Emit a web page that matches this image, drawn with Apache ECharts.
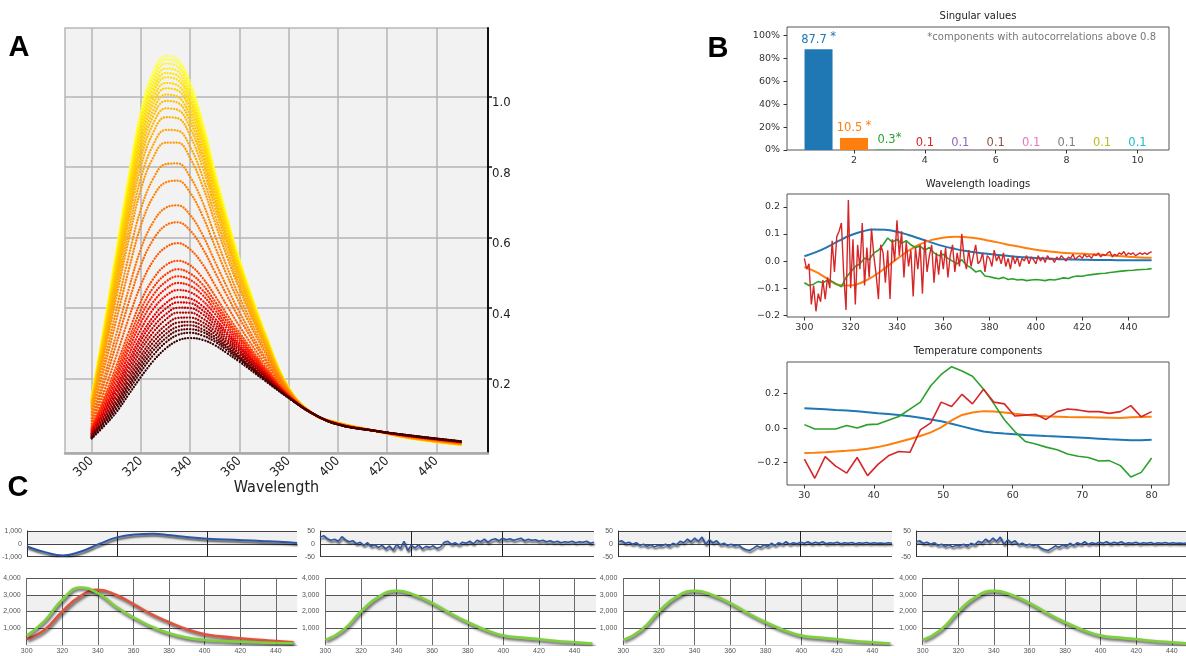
<!DOCTYPE html>
<html>
<head>
<meta charset="utf-8">
<title>Thermal spectra decomposition</title>
<script src="https://cdn.jsdelivr.net/npm/echarts@6/dist/echarts.min.js"></script>
<style>
  html, body { margin: 0; padding: 0; background: #fff; }
  #chart { width: 1186px; height: 656px; }
</style>
</head>
<body>
<div id="chart"></div>
<script>
// ---------- panel A : spectra, one curve per temperature ----------
const specWl = [300, 305, 310, 315, 320, 325, 330, 335, 340, 345, 350, 355, 360, 370, 380, 390, 400, 415, 430, 450]
const spectra = [
  [0.150,0.350,0.565,0.775,0.960,1.070,1.115,1.105,1.040,0.930,0.790,0.660,0.540,0.340,0.175,0.100,0.075,0.052,0.030,0.012],
  [0.149,0.347,0.560,0.768,0.951,1.060,1.105,1.095,1.031,0.923,0.784,0.655,0.537,0.338,0.175,0.100,0.075,0.052,0.030,0.012],
  [0.147,0.342,0.553,0.758,0.940,1.048,1.093,1.084,1.020,0.913,0.777,0.650,0.532,0.336,0.174,0.100,0.075,0.052,0.030,0.012],
  [0.145,0.338,0.545,0.748,0.928,1.035,1.079,1.071,1.009,0.903,0.769,0.643,0.527,0.334,0.174,0.100,0.075,0.052,0.030,0.012],
  [0.143,0.333,0.538,0.738,0.916,1.022,1.066,1.058,0.997,0.893,0.761,0.637,0.523,0.332,0.173,0.100,0.075,0.052,0.030,0.013],
  [0.141,0.329,0.531,0.729,0.904,1.009,1.054,1.046,0.986,0.884,0.753,0.631,0.518,0.329,0.173,0.100,0.075,0.052,0.031,0.013],
  [0.139,0.324,0.522,0.717,0.890,0.994,1.038,1.031,0.973,0.872,0.744,0.624,0.513,0.327,0.172,0.100,0.075,0.052,0.031,0.013],
  [0.137,0.318,0.514,0.706,0.876,0.979,1.023,1.017,0.960,0.861,0.735,0.617,0.508,0.324,0.172,0.100,0.074,0.052,0.031,0.013],
  [0.134,0.312,0.504,0.693,0.860,0.961,1.005,0.999,0.944,0.848,0.724,0.608,0.501,0.321,0.171,0.100,0.074,0.052,0.031,0.013],
  [0.132,0.306,0.494,0.680,0.844,0.944,0.987,0.982,0.928,0.835,0.714,0.600,0.495,0.318,0.170,0.100,0.074,0.052,0.031,0.014],
  [0.129,0.299,0.483,0.664,0.825,0.923,0.966,0.962,0.910,0.819,0.701,0.591,0.488,0.314,0.170,0.100,0.074,0.052,0.031,0.014],
  [0.125,0.290,0.468,0.645,0.801,0.898,0.941,0.938,0.888,0.800,0.686,0.579,0.479,0.310,0.169,0.100,0.074,0.052,0.032,0.014],
  [0.120,0.278,0.449,0.618,0.769,0.863,0.905,0.903,0.857,0.773,0.665,0.562,0.466,0.304,0.167,0.100,0.074,0.052,0.032,0.015],
  [0.115,0.266,0.429,0.592,0.737,0.827,0.869,0.869,0.825,0.747,0.644,0.545,0.454,0.297,0.166,0.100,0.074,0.052,0.032,0.015],
  [0.106,0.245,0.395,0.546,0.681,0.767,0.808,0.810,0.772,0.701,0.607,0.516,0.432,0.287,0.164,0.100,0.073,0.052,0.033,0.016],
  [0.098,0.227,0.366,0.507,0.634,0.716,0.756,0.761,0.727,0.662,0.576,0.492,0.414,0.278,0.162,0.100,0.073,0.052,0.034,0.016],
  [0.088,0.202,0.326,0.453,0.568,0.644,0.684,0.691,0.664,0.608,0.533,0.459,0.389,0.265,0.159,0.100,0.072,0.052,0.034,0.017],
  [0.080,0.185,0.298,0.415,0.522,0.594,0.634,0.643,0.620,0.570,0.503,0.435,0.371,0.257,0.158,0.100,0.072,0.052,0.035,0.018],
  [0.072,0.164,0.264,0.370,0.466,0.534,0.572,0.584,0.566,0.525,0.466,0.406,0.349,0.246,0.155,0.100,0.072,0.052,0.035,0.019],
  [0.064,0.146,0.236,0.331,0.419,0.483,0.521,0.534,0.521,0.486,0.436,0.382,0.331,0.237,0.154,0.100,0.071,0.052,0.036,0.019],
  [0.060,0.137,0.221,0.312,0.396,0.458,0.495,0.510,0.498,0.467,0.420,0.370,0.322,0.232,0.153,0.100,0.071,0.052,0.036,0.020],
  [0.057,0.130,0.210,0.296,0.377,0.437,0.474,0.490,0.480,0.451,0.408,0.361,0.315,0.229,0.152,0.100,0.071,0.052,0.036,0.020],
  [0.055,0.123,0.199,0.282,0.359,0.417,0.454,0.471,0.463,0.437,0.396,0.351,0.308,0.225,0.151,0.100,0.071,0.052,0.036,0.020],
  [0.052,0.116,0.187,0.266,0.340,0.397,0.434,0.451,0.445,0.421,0.384,0.342,0.300,0.222,0.150,0.100,0.071,0.052,0.037,0.020],
  [0.049,0.109,0.176,0.251,0.321,0.376,0.413,0.431,0.427,0.406,0.371,0.332,0.293,0.218,0.150,0.100,0.071,0.052,0.037,0.021],
  [0.046,0.104,0.168,0.239,0.308,0.362,0.398,0.416,0.414,0.394,0.362,0.325,0.288,0.216,0.149,0.100,0.071,0.052,0.037,0.021],
  [0.044,0.098,0.159,0.228,0.293,0.346,0.382,0.401,0.400,0.383,0.353,0.317,0.282,0.213,0.149,0.100,0.071,0.052,0.037,0.021],
  [0.042,0.093,0.151,0.216,0.280,0.331,0.367,0.387,0.387,0.371,0.344,0.310,0.277,0.210,0.148,0.100,0.071,0.052,0.037,0.021],
  [0.040,0.088,0.142,0.205,0.265,0.316,0.351,0.372,0.373,0.360,0.335,0.303,0.271,0.208,0.147,0.100,0.070,0.052,0.037,0.021],
  [0.038,0.083,0.134,0.195,0.253,0.303,0.338,0.359,0.361,0.350,0.327,0.297,0.267,0.205,0.147,0.100,0.070,0.052,0.038,0.021],
  [0.036,0.079,0.128,0.185,0.242,0.290,0.326,0.347,0.351,0.340,0.319,0.291,0.262,0.203,0.147,0.100,0.070,0.052,0.038,0.022],
  [0.034,0.075,0.121,0.177,0.231,0.279,0.314,0.336,0.340,0.332,0.312,0.286,0.258,0.201,0.146,0.100,0.070,0.052,0.038,0.022],
  [0.032,0.071,0.114,0.167,0.220,0.266,0.302,0.324,0.330,0.322,0.305,0.280,0.254,0.199,0.146,0.100,0.070,0.052,0.038,0.022],
  [0.030,0.065,0.105,0.155,0.205,0.250,0.285,0.308,0.315,0.310,0.295,0.272,0.248,0.196,0.145,0.100,0.070,0.052,0.038,0.022]
]
const specColors = [
  '#ffff50', '#ffff30', '#fff820', '#fff010', '#ffe800', '#ffe000', '#ffd800', '#ffd000', '#ffc800', '#ffc000',
  '#ffb800', '#ffb000', '#ffa500', '#ff9a00', '#ff8c00', '#ff8000', '#ff7400', '#ff6800', '#ff5a00', '#ff4800',
  '#ff3800', '#ff2800', '#ff1800', '#f50a00', '#e80000', '#d80000', '#c60000', '#b20000', '#9c0000', '#860000',
  '#700000', '#5c0000', '#4a0000', '#3a0000'
]
const specXTicks = [300, 320, 340, 360, 380, 400, 420, 440]
const specYTicks = [0.2, 0.4, 0.6, 0.8, 1.0]

// ---------- panel B : SVD ----------
const svIndex = [1, 2, 3, 4, 5, 6, 7, 8, 9, 10]
const svValues = [87.7, 10.5, 0.3, 0.1, 0.1, 0.1, 0.1, 0.1, 0.1, 0.1]
const svStarred = [true, true, true, false, false, false, false, false, false, false]
const tab10 = ['#1f77b4', '#ff7f0e', '#2ca02c', '#d62728', '#9467bd', '#8c564b', '#e377c2', '#7f7f7f', '#bcbd22', '#17becf']

const wl1 = [
  300,301,302,303,304,305,306,307,308,309,310,311,312,313,314,315,316,317,318,319,
  320,321,322,323,324,325,326,327,328,329,330,331,332,333,334,335,336,337,338,339,
  340,341,342,343,344,345,346,347,348,349,350,351,352,353,354,355,356,357,358,359,
  360,361,362,363,364,365,366,367,368,369,370,371,372,373,374,375,376,377,378,379,
  380,381,382,383,384,385,386,387,388,389,390,391,392,393,394,395,396,397,398,399,
  400,401,402,403,404,405,406,407,408,409,410,411,412,413,414,415,416,417,418,419,
  420,421,422,423,424,425,426,427,428,429,430,431,432,433,434,435,436,437,438,439,
  440,441,442,443,444,445,446,447,448,449,450
]
const wl2 = [
  300,302,304,306,308,310,312,314,316,318,320,322,324,326,328,330,332,334,336,338,
  340,342,344,346,348,350,352,354,356,358,360,362,364,366,368,370,372,374,376,378,
  380,382,384,386,388,390,392,394,396,398,400,402,404,406,408,410,412,414,416,418,
  420,422,424,426,428,430,432,434,436,438,440,442,444,446,448,450
]
const wl5 = [300,305,310,315,320,325,330,335,340,345,350,355,360,365,370,375,380,385,390,395,400,405,410,415,420,425,430,435,440,445,450]

const loadBlue = [0.018,0.033,0.052,0.075,0.095,0.109,0.116,0.115,0.108,0.096,0.082,0.068,0.055,0.045,0.037,0.031,0.026,0.021,0.017,0.014,0.011,0.009,0.007,0.006,0.005,0.004,0.004,0.003,0.003,0.003,0.003]
const loadOrange = [-0.022,-0.040,-0.065,-0.088,-0.090,-0.078,-0.055,-0.025,0.008,0.038,0.062,0.078,0.086,0.090,0.088,0.083,0.075,0.066,0.057,0.049,0.042,0.036,0.032,0.029,0.027,0.025,0.022,0.019,0.016,0.013,0.012]
const loadGreen = [
  -0.080,-0.090,-0.085,-0.075,-0.080,-0.070,-0.075,-0.085,-0.095,-0.060,-0.040,-0.020,-0.010,0.010,0.005,0.030,0.040,0.060,0.085,0.070,
  0.080,0.065,0.075,0.060,0.050,0.055,0.040,0.050,0.030,0.020,0.025,0.010,0.000,-0.010,0.005,-0.015,-0.025,-0.040,-0.035,-0.055,
  -0.058,-0.062,-0.065,-0.060,-0.068,-0.065,-0.070,-0.068,-0.072,-0.070,-0.068,-0.070,-0.072,-0.068,-0.070,-0.066,-0.062,-0.064,-0.058,-0.055,
  -0.056,-0.052,-0.050,-0.048,-0.046,-0.045,-0.042,-0.040,-0.038,-0.036,-0.035,-0.034,-0.032,-0.031,-0.030,-0.028
]
const loadRed = [
  0.010,-0.030,-0.010,-0.160,-0.090,-0.185,-0.120,-0.150,-0.070,-0.140,-0.060,-0.100,0.075,-0.040,0.090,0.110,0.140,-0.050,-0.180,0.225,
  -0.100,0.080,-0.160,0.060,-0.030,0.140,-0.090,0.050,-0.060,0.120,0.020,-0.050,-0.140,0.060,0.030,-0.080,0.040,-0.140,0.080,0.000,
  0.150,0.020,0.110,-0.060,0.070,-0.020,0.040,-0.130,0.050,-0.030,0.060,-0.120,0.080,-0.040,0.020,0.060,-0.080,0.030,-0.050,0.040,
  -0.030,0.050,-0.060,0.020,0.060,-0.040,0.030,-0.020,0.100,0.010,-0.030,0.040,-0.020,0.020,0.060,-0.010,0.000,0.030,-0.040,0.020,
  0.010,-0.020,0.040,0.000,0.020,-0.010,0.030,-0.020,0.010,-0.030,0.020,-0.010,0.015,-0.020,0.010,0.000,0.020,-0.010,0.015,0.005,
  -0.010,0.020,0.000,0.015,-0.005,0.020,0.005,0.010,-0.005,0.015,0.005,0.020,0.010,0.000,0.015,0.010,0.025,0.005,0.015,0.020,
  0.010,0.025,0.015,0.020,0.010,0.025,0.020,0.030,0.015,0.025,0.020,0.030,0.035,0.015,0.025,0.020,0.030,0.025,0.035,0.020,
  0.030,0.025,0.030,0.020,0.025,0.030,0.025,0.030,0.025,0.030,0.035
]

const temps = [30.0,31.5,33.0,34.5,36.1,37.6,39.1,40.6,42.1,43.6,45.2,46.7,48.2,49.7,51.2,52.7,54.2,55.8,57.3,58.8,60.3,61.8,63.3,64.8,66.4,67.9,69.4,70.9,72.4,73.9,75.5,77.0,78.5,80.0]
const tempBlue = [0.115,0.112,0.109,0.105,0.101,0.097,0.092,0.086,0.081,0.075,0.068,0.060,0.050,0.040,0.025,0.010,-0.005,-0.020,-0.027,-0.032,-0.036,-0.040,-0.043,-0.046,-0.049,-0.052,-0.055,-0.058,-0.061,-0.064,-0.067,-0.070,-0.071,-0.068]
const tempOrange = [-0.144,-0.142,-0.139,-0.135,-0.131,-0.126,-0.119,-0.110,-0.096,-0.080,-0.063,-0.046,-0.025,0.004,0.045,0.076,0.090,0.098,0.096,0.090,0.083,0.077,0.072,0.068,0.066,0.064,0.063,0.062,0.061,0.060,0.058,0.062,0.064,0.065]
const tempGreen = [0.020,-0.005,-0.005,-0.005,0.015,0.000,0.020,0.023,0.045,0.067,0.110,0.150,0.245,0.310,0.355,0.330,0.300,0.225,0.140,0.048,-0.020,-0.077,-0.092,-0.110,-0.125,-0.150,-0.163,-0.170,-0.190,-0.188,-0.217,-0.283,-0.256,-0.173]
const tempRed = [-0.180,-0.290,-0.165,-0.220,-0.260,-0.170,-0.275,-0.210,-0.160,-0.135,-0.140,-0.010,0.030,0.150,0.125,0.195,0.140,0.225,0.150,0.140,0.070,0.075,0.080,0.050,0.095,0.110,0.105,0.095,0.095,0.085,0.095,0.130,0.065,0.095]

// ---------- panel C : fits and residuals ----------
const fitWl = [300, 310, 320, 330, 340, 350, 360, 370, 380, 390, 400, 410, 420, 430, 440, 450]
const p1Residual = [-210, -650, -910, -600, -20, 500, 730, 790, 660, 520, 400, 340, 280, 220, 160, 60]
const p1Green = [557, 1440, 2700, 3430, 3100, 2300, 1640, 1100, 700, 440, 300, 240, 200, 150, 120, 100]
const p1Red = [360, 900, 2000, 2900, 3290, 3000, 2440, 1840, 1360, 940, 640, 500, 400, 310, 240, 160]
const fitCurve = [300, 900, 2000, 2890, 3230, 2990, 2500, 1900, 1360, 900, 560, 440, 340, 240, 160, 80]
const p2Residual = [
  25,32,20,14,18,10,28,15,8,12,0,6,-6,4,-10,-4,-14,-6,-20,-8,
  -24,-2,-18,10,-26,-6,-16,-4,-20,-10,-14,-8,-18,-12,6,10,-2,4,-4,6,
  2,10,0,14,8,18,6,16,20,12,22,16,20,14,18,22,12,18,14,16,
  10,14,8,12,6,10,4,8,6,10,4,8,6,10,2,6
]
const p34Residual = [
  8,12,2,6,-2,4,-6,-2,-10,-4,-12,-6,-8,-2,-10,2,-4,10,4,18,
  8,22,10,26,-2,16,4,12,-4,2,-6,-2,-8,-4,-16,-22,-26,-18,-8,-14,
  -4,-10,2,-6,4,-2,8,-2,4,0,6,2,8,0,6,2,8,0,4,2,
  6,0,4,2,5,0,4,2,5,1,4,2,3,1,4,2
]
const fitXTicks = [300, 320, 340, 360, 380, 400, 420, 440]

const mplFont = 'DejaVu Sans'
const smallFont = 'Liberation Sans'

const signed = v => (v < 0 ? '\u2212' : '') + Math.abs(v).toFixed(1)
const comma = v => v.toLocaleString('en-US')
const pairs = (xs, ys) => ys.map((y, i) => [xs[i], y])

const chart = echarts.init(document.getElementById('chart'))

const grids = []
const xAxes = []
const yAxes = []
const series = []

// panel A
grids.push({ left: 65, top: 28, width: 423, height: 425, show: true, backgroundColor: '#f2f2f2', borderColor: '#b8b8b8', borderWidth: 1.5 })
xAxes.push({
  gridIndex: 0, type: 'value', min: 289.15, max: 461,
  name: 'Wavelength', nameLocation: 'middle', nameGap: 27, nameMoveOverlap: false,
  nameTextStyle: { fontFamily: 'DejaVu Sans Condensed', fontSize: 16, color: '#222' },
  axisLine: { onZero: false, lineStyle: { color: '#a8a8a8', width: 2.5 } },
  axisTick: { show: false, customValues: specXTicks },
  axisLabel: { customValues: specXTicks, rotate: 45, margin: 6, fontFamily: 'DejaVu Sans Condensed', fontSize: 13, color: '#222' },
  splitLine: { show: true, lineStyle: { color: '#b4b4b4', width: 1.5 } }
})
yAxes.push({
  gridIndex: 0, type: 'value', position: 'right', min: -0.011, max: 1.194,
  axisLine: { show: true, onZero: false, lineStyle: { color: '#111', width: 2 } },
  axisTick: { show: true, customValues: specYTicks, length: 4, lineStyle: { color: '#111', width: 1.5 } },
  axisLabel: { customValues: specYTicks, formatter: v => v.toFixed(1), margin: 4, verticalAlign: 'top', fontFamily: 'DejaVu Sans Condensed', fontSize: 13, color: '#222' },
  splitLine: { show: true, lineStyle: { color: '#b4b4b4', width: 1.5 } }
})
spectra.forEach((row, i) => {
  series.push({
    type: 'line', xAxisIndex: 0, yAxisIndex: 0, smooth: 0.4, symbol: 'none', silent: true,
    data: pairs(specWl, row),
    lineStyle: { color: specColors[i], width: 2.3, type: [0.1, 2.8], cap: 'round' }
  })
})

// panel B helpers
function mplAxis(gridIndex, dim, min, max, ticks, formatter) {
  return {
    gridIndex, type: 'value', min, max,
    axisLine: { show: false, onZero: false },
    axisTick: { show: true, customValues: ticks, length: 3.5, lineStyle: { color: '#333' } },
    axisLabel: { customValues: ticks, formatter, margin: dim === 'x' ? 6 : 7, fontFamily: mplFont, fontSize: 9.5, color: '#333' },
    splitLine: { show: false }
  }
}
const bTops = [27, 194, 362]
bTops.forEach(t => grids.push({ left: 787, top: t, width: 382, height: 123, show: true, borderColor: '#555', borderWidth: 1 }))

// singular values
xAxes.push(mplAxis(1, 'x', 0.11, 10.89, [2, 4, 6, 8, 10], v => String(v)))
yAxes.push(mplAxis(1, 'y', 0, 107.2, [0, 20, 40, 60, 80, 100], v => v + '%'))
series.push({
  type: 'bar', xAxisIndex: 1, yAxisIndex: 1, barWidth: 28, silent: true,
  data: svIndex.map((x, i) => ({
    value: [x, svValues[i]],
    itemStyle: { color: tab10[i] },
    label: {
      color: tab10[i],
      rich: {
        v: { color: tab10[i], fontSize: 11.5, fontFamily: mplFont },
        s: { color: tab10[i], fontSize: 11.5, fontFamily: mplFont, padding: [0, 0, 5, 0] }
      }
    }
  })),
  label: {
    show: true, position: 'top', distance: 1,
    formatter: p => '{v|' + svValues[p.dataIndex].toFixed(1) + '}' + (svStarred[p.dataIndex] ? (p.dataIndex < 2 ? ' ' : '') + '{s|*}' : '')
  }
})

// wavelength loadings
xAxes.push(mplAxis(2, 'x', 292.5, 457.5, [300, 320, 340, 360, 380, 400, 420, 440], v => String(v)))
yAxes.push(mplAxis(2, 'y', -0.206, 0.247, [-0.2, -0.1, 0, 0.1, 0.2], signed))
const loadSets = [[wl5, loadBlue, 0, 2], [wl5, loadOrange, 1, 2], [wl2, loadGreen, 2, 1.6], [wl1, loadRed, 3, 1.4]]
loadSets.forEach(([xs, ys, c, w]) => series.push({
  type: 'line', xAxisIndex: 2, yAxisIndex: 2, symbol: 'none', silent: true, smooth: xs === wl5,
  data: pairs(xs, ys), lineStyle: { color: tab10[c], width: w }
}))

// temperature components
xAxes.push(mplAxis(3, 'x', 27.5, 82.5, [30, 40, 50, 60, 70, 80], v => String(v)))
yAxes.push(mplAxis(3, 'y', -0.329, 0.382, [-0.2, 0, 0.2], signed))
;[tempBlue, tempOrange, tempGreen, tempRed].forEach((ys, c) => series.push({
  type: 'line', xAxisIndex: 3, yAxisIndex: 3, symbol: 'none', silent: true,
  data: pairs(temps, ys), lineStyle: { color: tab10[c], width: c < 2 ? 2 : 1.6 }
}))

// panel C
const cTopLeft = [27, 320, 618, 916]
const cTopWidth = [270, 274, 274, 275]
const cBotLeft = [26.7, 325.4, 623.3, 922.7]
const cResidual = [p1Residual, p2Residual, p34Residual, p34Residual]
const cResidualX = [fitWl, wl2, wl2, wl2]
const cResidualMax = [1000, 50, 50, 50]
const shadow = { shadowColor: 'rgba(0,0,0,0.7)', shadowBlur: 3, shadowOffsetX: 1, shadowOffsetY: 2 }
const smallLabel = { fontFamily: smallFont, fontSize: 7, color: '#555' }

for (let k = 0; k < 4; k++) {
  // residual strip
  const gt = grids.length
  grids.push({ left: cTopLeft[k], top: 531, width: cTopWidth[k], height: 25.6, show: false })
  xAxes.push({
    gridIndex: gt, type: 'value', min: 300, max: 450,
    axisLine: { show: false, onZero: false },
    axisTick: { show: false, customValues: [350, 400] },
    axisLabel: { show: false },
    splitLine: { show: true, lineStyle: { color: '#222', width: 1 } }
  })
  const m = cResidualMax[k]
  yAxes.push({
    gridIndex: gt, type: 'value', min: -m, max: m, interval: m,
    axisLine: { show: true, onZero: false, lineStyle: { color: '#333' } },
    axisTick: { show: false },
    axisLabel: { ...smallLabel, margin: 5, formatter: comma },
    splitLine: { show: true, lineStyle: { color: '#444', width: 1 } },
    splitArea: { show: true, areaStyle: { color: ['#ffffff', '#f0f0f0'] } }
  })
  series.push({
    type: 'line', xAxisIndex: gt, yAxisIndex: gt, symbol: 'none', silent: true, smooth: k === 0,
    data: pairs(cResidualX[k], cResidual[k]),
    lineStyle: { color: '#2c55a5', width: k === 0 ? 2 : 1.6, ...shadow, shadowBlur: 2 }
  })

  // fit plot
  const gb = grids.length
  grids.push({ left: cBotLeft[k], top: 578, width: 270.5, height: 67, show: false })
  xAxes.push({
    gridIndex: gb, type: 'value', min: 300, max: 452,
    axisLine: { show: true, onZero: false, lineStyle: { color: '#d0d0d0' } },
    axisTick: { show: false, customValues: fitXTicks },
    axisLabel: { ...smallLabel, customValues: fitXTicks, margin: 3 },
    splitLine: { show: true, lineStyle: { color: '#6a6a6a', width: 1 } }
  })
  yAxes.push({
    gridIndex: gb, type: 'value', min: 0, max: 4000, interval: 1000,
    axisLine: { show: false, onZero: false },
    axisTick: { show: false },
    axisLabel: { ...smallLabel, margin: 6, formatter: v => (v === 0 ? '' : comma(v)) },
    splitLine: { show: true, lineStyle: { color: ['#d0d0d0', '#555', '#555', '#555', '#555'], width: 1 } },
    splitArea: { show: true, areaStyle: { color: ['#ffffff', '#ffffff', '#f0f0f0', '#ffffff'] } }
  })
  const fits = k === 0 ? [[p1Red, '#e0533c'], [p1Green, '#7ed03c']] : [[fitCurve, '#7ed03c']]
  fits.forEach(([ys, col]) => series.push({
    type: 'line', xAxisIndex: gb, yAxisIndex: gb, symbol: 'none', silent: true, smooth: true,
    data: pairs(fitWl, ys), lineStyle: { color: col, width: 2.6, ...shadow }
  }))
}

const panelLetter = (t, x, y) => ({
  type: 'text', x, y, silent: true,
  style: { text: t, fill: '#000', font: 'bold 29px "Liberation Sans", Arial, sans-serif', align: 'center', verticalAlign: 'middle' }
})
const plotTitle = (t, y) => ({
  type: 'text', x: 978, y, silent: true,
  style: { text: t, fill: '#222', font: '10px "DejaVu Sans"', align: 'center', verticalAlign: 'middle' }
})

chart.setOption({
  animation: false,
  backgroundColor: '#ffffff',
  grid: grids.map(g => ({ outerBoundsMode: 'none', containLabel: false, ...g })),
  xAxis: xAxes,
  yAxis: yAxes,
  series,
  graphic: [
    panelLetter('A', 19, 48),
    panelLetter('B', 718, 49),
    panelLetter('C', 18, 488),
    plotTitle('Singular values', 16),
    plotTitle('Wavelength loadings', 184),
    plotTitle('Temperature components', 351),
    {
      type: 'text', x: 1156, y: 37.5, silent: true,
      style: { text: '*components with autocorrelations above 0.8', fill: '#777', font: '10px "DejaVu Sans"', align: 'right', verticalAlign: 'middle' }
    }
  ]
})
</script>
</body>
</html>
